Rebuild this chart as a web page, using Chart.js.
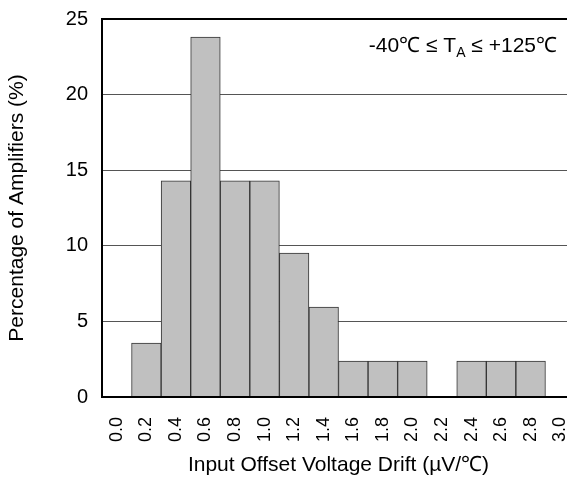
<!DOCTYPE html>
<html>
<head>
<meta charset="utf-8">
<script src="https://cdn.jsdelivr.net/npm/chart.js@4.4.1/dist/chart.umd.min.js"></script>
<style>
  html, body { margin: 0; padding: 0; overflow: hidden; background: #fff; }
  #wrap { width: 600px; height: 478px; position: relative; }
</style>
</head>
<body>
<div id="wrap"><canvas id="histChart"></canvas></div>
<script>
// bin labels (lower edge of each 0.2 uV/C bin)
const binLabels = ['0.0', '0.2', '0.4', '0.6', '0.8', '1.0', '1.2', '1.4', '1.6', '1.8', '2.0', '2.2', '2.4', '2.6', '2.8', '3.0'];
// percentage of amplifiers in each bin
const binPercent = [0, 3.57, 14.29, 23.81, 14.29, 14.29, 9.52, 5.95, 2.38, 2.38, 2.38, 0, 2.38, 2.38, 2.38, 0];
const yTicks = [0, 5, 10, 15, 20, 25];

const FONT = '"Liberation Sans", Arial, sans-serif';

// frame round the plot + temperature note
const framePlugin = {
  id: 'frame',
  afterDatasetsDraw(chart) {
    const { ctx, chartArea: a } = chart;
    ctx.save();
    ctx.strokeStyle = '#000';
    ctx.lineWidth = 2;
    ctx.beginPath();
    ctx.moveTo(a.right, a.top);
    ctx.lineTo(a.left, a.top);
    ctx.lineTo(a.left, a.bottom);
    ctx.lineTo(a.right, a.bottom);
    ctx.stroke();

    // -40°C ≤ TA ≤ +125°C, right end near x=557
    const big = '21px ' + FONT, small = '14px ' + FONT;
    const p1 = '-40\u2103 \u2264 T', p2 = 'A', p3 = ' \u2264 +125\u2103';
    ctx.font = big;
    const w1 = ctx.measureText(p1).width, w3 = ctx.measureText(p3).width;
    ctx.font = small;
    const w2 = ctx.measureText(p2).width;
    const xEnd = a.left + 455, base = a.top + 33;
    let x = xEnd - (w1 + w2 + w3);
    ctx.fillStyle = '#000';
    ctx.textBaseline = 'alphabetic';
    ctx.textAlign = 'left';
    ctx.font = big;
    ctx.fillText(p1, x, base);
    x += w1;
    ctx.font = small;
    ctx.fillText(p2, x, base + 5);
    x += w2;
    ctx.font = big;
    ctx.fillText(p3, x, base);
    ctx.restore();
  }
};

const ctx = document.getElementById('histChart').getContext('2d');
new Chart(ctx, {
  type: 'bar',
  data: {
    labels: binLabels,
    datasets: [{
      data: binPercent,
      backgroundColor: '#c0c0c0',
      borderColor: '#333333',
      borderWidth: 1,
      barPercentage: 1,
      categoryPercentage: 1
    }]
  },
  options: {
    responsive: true,
    maintainAspectRatio: false,
    animation: false,
    // canvas is wider than the window: last bin runs off the right edge, as in the reference
    layout: { padding: { top: 19, right: 25, left: 0, bottom: 0 } },
    plugins: { legend: { display: false }, tooltip: { enabled: false } },
    scales: {
      x: {
        afterFit(scale) {
          scale.height = 81;
          scale.paddingLeft = 0;
          scale.paddingRight = 0;
        },
        grid: { display: false, drawTicks: false },
        border: { display: false },
        ticks: {
          color: '#000',
          font: { family: FONT, size: 18 },
          minRotation: 90,
          maxRotation: 90,
          padding: 20,
          autoSkip: false
        },
        title: {
          display: true,
          text: 'Input Offset Voltage Drift (\u00b5V/\u2103)',
          color: '#000',
          font: { family: FONT, size: 21 },
          padding: { top: 0, bottom: 0 }
        }
      },
      y: {
        min: 0,
        max: 25,
        afterBuildTicks(scale) { scale.ticks = yTicks.map(v => ({ value: v })); },
        afterFit(scale) {
          scale.width = 102;
          scale.paddingTop = 0;
          scale.paddingBottom = 0;
        },
        grid: {
          drawTicks: false,
          color: ctx => (ctx.tick && (ctx.tick.value === 0 || ctx.tick.value === 25)) ? 'rgba(0,0,0,0)' : '#555',
          lineWidth: 1
        },
        border: { display: false },
        ticks: {
          color: '#000',
          font: { family: FONT, size: 20 },
          padding: 14
        },
        title: {
          display: true,
          text: 'Percentage of Amplifiers (%)',
          color: '#000',
          font: { family: FONT, size: 21 },
          padding: { top: 5, bottom: 0 }
        }
      }
    }
  },
  plugins: [framePlugin]
});
</script>
</body>
</html>
